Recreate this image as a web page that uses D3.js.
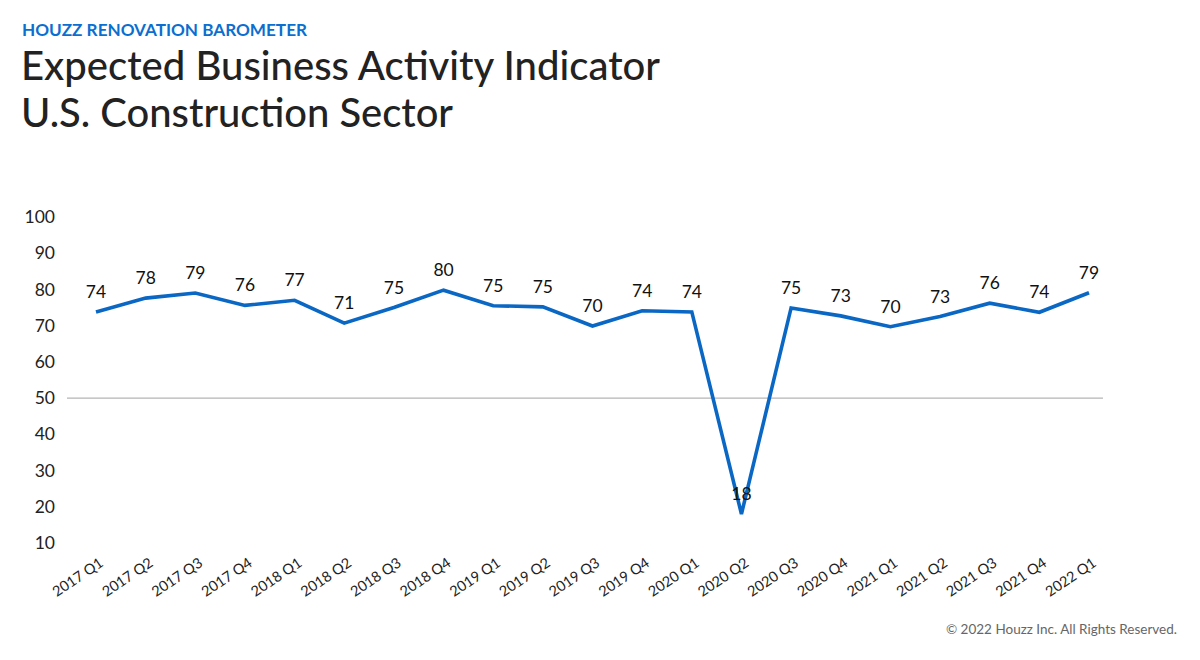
<!DOCTYPE html>
<html><head><meta charset="utf-8">
<script src="https://cdn.jsdelivr.net/npm/d3@7"></script>
<style>
html,body{margin:0;padding:0;background:#fff;}
svg{display:block;font-family:"Lato","Open Sans",sans-serif;}
</style></head>
<body>
<svg id="chart" width="1200" height="660"></svg>
<script>
const categories = ["2017 Q1","2017 Q2","2017 Q3","2017 Q4","2018 Q1","2018 Q2","2018 Q3","2018 Q4",
  "2019 Q1","2019 Q2","2019 Q3","2019 Q4","2020 Q1","2020 Q2","2020 Q3","2020 Q4",
  "2021 Q1","2021 Q2","2021 Q3","2021 Q4","2022 Q1"];
const values = [73.8,77.6,79.0,75.6,77.0,70.7,75.0,79.8,75.5,75.2,69.9,74.1,73.8,18.0,74.9,72.7,69.7,72.5,76.2,73.7,79.1];
const dataLabels = ["74","78","79","76","77","71","75","80","75","75","70","74","74","18","75","73","70","73","76","74","79"];
const yTicks = [10,20,30,40,50,60,70,80,90,100];
const refValue = 50;

const svg = d3.select("#chart");
const blue = "#0a68c4";

// Headings
svg.append("text").attr("x",22).attr("y",36)
  .attr("font-size",17.5).attr("font-weight",700).attr("fill","#0a6fd0")
  .attr("textLength",285).attr("lengthAdjust","spacingAndGlyphs")
  .text("HOUZZ RENOVATION BAROMETER");
svg.append("text").attr("x",21).attr("y",80)
  .attr("font-size",41).attr("font-weight",500).attr("fill","#222")
  .attr("textLength",639).attr("lengthAdjust","spacingAndGlyphs")
  .text("Expected Business Activity Indicator");
svg.append("text").attr("x",21).attr("y",127)
  .attr("font-size",41).attr("font-weight",500).attr("fill","#222")
  .attr("textLength",432).attr("lengthAdjust","spacingAndGlyphs")
  .text("U.S. Construction Sector");

// Scales
const x = d3.scalePoint().domain(categories).range([96,1089]);
const y = d3.scaleLinear().domain([10,100]).range([543,217]);

// Y axis labels
const yAxis = d3.axisLeft(y).tickValues(yTicks).tickSize(0).tickPadding(0);
const yg = svg.append("g").attr("transform","translate(55,0)").call(yAxis);
yg.select(".domain").remove();
yg.selectAll("text").attr("font-size",17.5).attr("fill","#222").attr("font-family","Lato, 'Open Sans', sans-serif");

// Reference line at 50
svg.append("line")
  .attr("x1",x(categories[0])-29).attr("x2",x(categories[categories.length-1])+14)
  .attr("y1",y(refValue)).attr("y2",y(refValue))
  .attr("stroke","#b5b5b5").attr("stroke-width",1.2);

// X axis labels
const xAxis = d3.axisBottom(x).tickSize(0).tickPadding(0);
const xg = svg.append("g").attr("transform","translate(0,561)").call(xAxis);
xg.select(".domain").remove();
xg.selectAll("text")
  .attr("font-size",14.5).attr("fill","#222").attr("font-family","Lato, 'Open Sans', sans-serif")
  .attr("text-anchor","end").attr("dy","0.35em")
  .attr("transform","translate(5,0) rotate(-34)");

// Line
const line = d3.line().x((d,i)=>x(categories[i])).y(d=>y(d));
svg.append("path").datum(values)
  .attr("d",line).attr("fill","none")
  .attr("stroke",blue).attr("stroke-width",3.6)
  .attr("stroke-linejoin","miter");

// Data labels
svg.append("g").selectAll("text").data(values).join("text")
  .attr("x",(d,i)=>x(categories[i]))
  .attr("y",d=>y(d)-14)
  .attr("text-anchor","middle")
  .attr("font-size",17.5).attr("fill","#111")
  .text((d,i)=>dataLabels[i]);

// Footer
svg.append("text").attr("x",1177).attr("y",634)
  .attr("text-anchor","end").attr("font-size",13.5).attr("fill","#666")
  .text("© 2022 Houzz Inc. All Rights Reserved.");
</script>
</body></html>
